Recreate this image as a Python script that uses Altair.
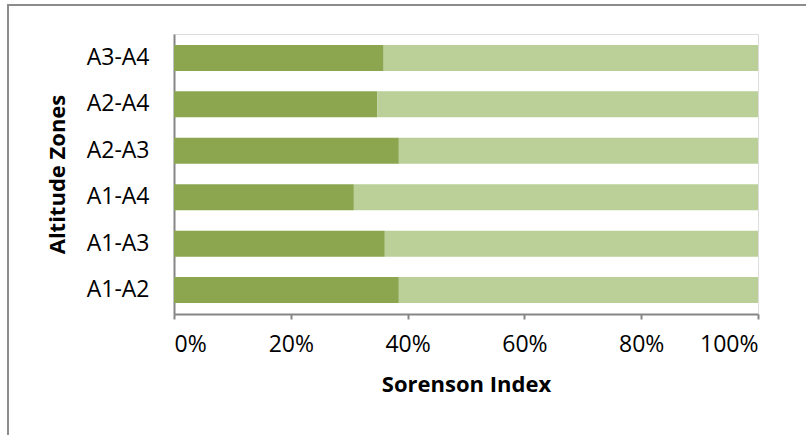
import altair as alt
import pandas as pd

# Altitude zone pairs, listed top to bottom
zones = ["A3-A4", "A2-A4", "A2-A3", "A1-A4", "A1-A3", "A1-A2"]
# Sorenson similarity share (%) and the remaining share (%)
shared = [35.9, 34.8, 38.5, 30.8, 36.1, 38.5]
remaining = [64.1, 65.2, 61.5, 69.2, 63.9, 61.5]

series = ["Shared", "Remaining"]
colors = ["#8BA64F", "#BBCF99"]

rows = []
for z, s, r in zip(zones, shared, remaining):
    rows.append({"zone": z, "part": series[0], "order": 0, "value": s})
    rows.append({"zone": z, "part": series[1], "order": 1, "value": r})
df = pd.DataFrame(rows)

font = "Open Sans"
axis_color = "#868686"

bars = alt.Chart(df).mark_bar().encode(
    y=alt.Y(
        "zone:N",
        sort=zones,
        scale=alt.Scale(paddingInner=0.44, paddingOuter=0.235),
        axis=alt.Axis(
            title="Altitude Zones",
            ticks=False,
            labelPadding=25,
            labelFontSize=23,
            labelFont=font,
            labelColor="#000000",
            titleFont=font,
            titleFontSize=22,
            titleFontWeight="bold",
            titleColor="#000000",
            titlePadding=17,
            domainColor=axis_color,
            domainWidth=2,
        ),
    ),
    x=alt.X(
        "value:Q",
        stack="normalize",
        scale=alt.Scale(domain=[0, 1], nice=False),
        axis=alt.Axis(
            title="Sorenson Index",
            format="%",
            values=[0, 0.2, 0.4, 0.6, 0.8, 1.0],
            grid=False,
            tickSize=5,
            tickWidth=2,
            tickColor=axis_color,
            domainColor=axis_color,
            domainWidth=2,
            labelPadding=14,
            labelFontSize=23,
            labelFont=font,
            labelColor="#000000",
            titleFont=font,
            titleFontSize=22,
            titleFontWeight="bold",
            titleColor="#000000",
            titlePadding=18,
        ),
    ),
    color=alt.Color(
        "part:N",
        scale=alt.Scale(domain=series, range=colors),
        legend=None,
    ),
    order=alt.Order("order:Q"),
)

# Outer chart frame
frame = alt.Chart(pd.DataFrame({"f": [0]})).mark_rect(
    fill=None, stroke="#8C8C8C", strokeWidth=2
).encode(
    x=alt.value(-166),
    x2=alt.value(640),
    y=alt.value(-29),
    y2=alt.value(410),
)

chart = (
    alt.layer(frame, bars)
    .properties(
        width=584,
        height=280,
        autosize=alt.AutoSizeParams(type="none"),
        padding={"left": 174, "top": 34, "right": 48, "bottom": 121},
    )
    .configure_view(stroke=None)
    .configure(background="#FFFFFF")
)

chart.save("out.html", embed_options={"renderer": "svg", "actions": False})
